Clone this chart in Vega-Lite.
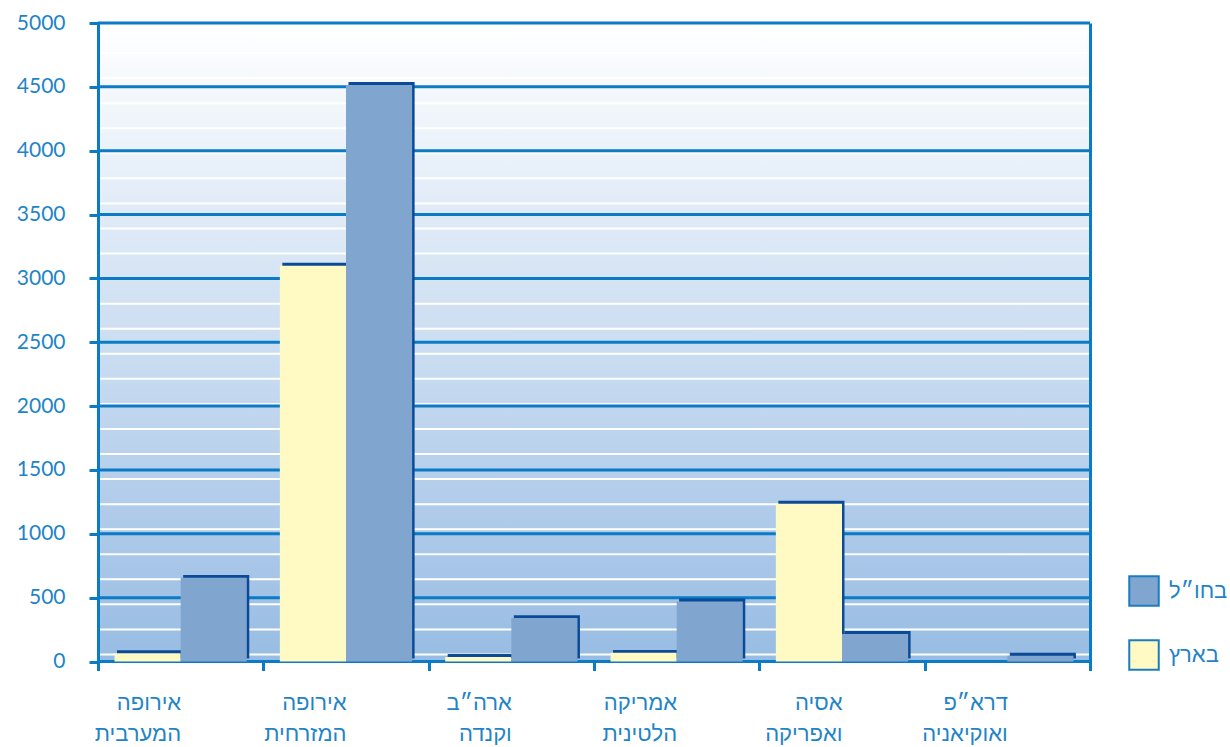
{
  "$schema": "https://vega.github.io/schema/vega-lite/v6.json",
  "width": 992,
  "height": 638.5,
  "autosize": "none",
  "padding": {"left": 98, "top": 23, "right": 140, "bottom": 86},
  "background": "white",
  "config": {"view": {"stroke": null}, "font": "Liberation Sans"},
  "datasets": {
    "bars": [
      {"region": "אירופה המערבית", "loc": "בארץ", "value": 65},
      {"region": "אירופה המערבית", "loc": "בחו״ל", "value": 655},
      {"region": "אירופה המזרחית", "loc": "בארץ", "value": 3100},
      {"region": "אירופה המזרחית", "loc": "בחו״ל", "value": 4515},
      {"region": "ארה״ב וקנדה", "loc": "בארץ", "value": 35},
      {"region": "ארה״ב וקנדה", "loc": "בחו״ל", "value": 340},
      {"region": "אמריקה הלטינית", "loc": "בארץ", "value": 68},
      {"region": "אמריקה הלטינית", "loc": "בחו״ל", "value": 470},
      {"region": "אסיה ואפריקה", "loc": "בארץ", "value": 1235},
      {"region": "אסיה ואפריקה", "loc": "בחו״ל", "value": 215},
      {"region": "דרא״פ ואוקיאניה", "loc": "בארץ", "value": 0},
      {"region": "דרא״פ ואוקיאניה", "loc": "בחו״ל", "value": 45}
    ],
    "minor": [
      {"g": 55}, {"g": 251}, {"g": 448}, {"g": 644}, {"g": 840}, {"g": 1036}, {"g": 1232},
      {"g": 1429}, {"g": 1625}, {"g": 1821}, {"g": 2017}, {"g": 2214}, {"g": 2410}, {"g": 2606},
      {"g": 2802}, {"g": 2999}, {"g": 3195}, {"g": 3391}, {"g": 3587}, {"g": 3784}, {"g": 3980},
      {"g": 4176}, {"g": 4372}, {"g": 4569}, {"g": 4765}
    ],
    "major": [
      {"g": 0}, {"g": 500}, {"g": 1000}, {"g": 1500}, {"g": 2000}, {"g": 2500},
      {"g": 3000}, {"g": 3500}, {"g": 4000}, {"g": 4500}, {"g": 5000}
    ]
  },
  "resolve": {"scale": {"y": "independent", "xOffset": "independent"}, "axis": {"y": "independent"}},
  "layer": [
    {
      "data": {"values": [{"a": 1}]},
      "mark": {
        "type": "rect",
        "fill": {
          "gradient": "linear",
          "x1": 0, "y1": 0, "x2": 0, "y2": 1,
          "stops": [
            {"offset": 0, "color": "#ffffff"},
            {"offset": 1, "color": "#98bce3"}
          ]
        }
      },
      "encoding": {
        "y": {
          "datum": 0, "type": "quantitative",
          "scale": {"domain": [0, 5000], "nice": false},
          "axis": {"orient": "right", "labels": false, "ticks": false, "domain": true, "domainColor": "#0a7bc4", "domainWidth": 3, "grid": false, "title": null, "zindex": 1}
        },
        "y2": {"datum": 5000}
      }
    },
    {
      "data": {"name": "minor"},
      "mark": {"type": "rule", "color": "#ffffff", "strokeWidth": 2},
      "encoding": {
        "y": {"field": "g", "type": "quantitative", "scale": {"domain": [0, 5000], "nice": false}, "axis": null}
      }
    },
    {
      "data": {"name": "major"},
      "mark": {"type": "rule", "color": "#0a7bc4", "strokeWidth": 3},
      "encoding": {
        "y": {"field": "g", "type": "quantitative", "scale": {"domain": [0, 5000], "nice": false}, "axis": null}
      }
    },
    {
      "data": {"name": "bars"},
      "mark": {"type": "bar", "fill": "#0a4a96"},
      "encoding": {
        "x": {
          "field": "region", "type": "nominal",
          "scale": {"domain": ["אירופה המערבית", "אירופה המזרחית", "ארה״ב וקנדה", "אמריקה הלטינית", "אסיה ואפריקה", "דרא״פ ואוקיאניה"], "paddingInner": 0, "paddingOuter": 0},
          "axis": {"title": null}
        },
        "xOffset": {
          "field": "loc", "type": "nominal",
          "scale": {"domain": ["בארץ", "בחו״ל"], "paddingInner": 0, "paddingOuter": 0.25, "align": 0.575}
        },
        "y": {"field": "value", "type": "quantitative", "scale": {"domain": [-23, 4977], "nice": false}, "axis": null}
      }
    },
    {
      "data": {"name": "bars"},
      "mark": {"type": "bar"},
      "encoding": {
        "x": {
          "field": "region", "type": "nominal",
          "scale": {"domain": ["אירופה המערבית", "אירופה המזרחית", "ארה״ב וקנדה", "אמריקה הלטינית", "אסיה ואפריקה", "דרא״פ ואוקיאניה"], "paddingInner": 0, "paddingOuter": 0},
          "axis": {
            "title": null, "domain": false, "grid": false,
            "tickBand": "extent", "tickColor": "#0a7bc4", "tickWidth": 3, "tickSize": 9,
            "labelAngle": 0, "labelExpr": "split(datum.label, ' ')",
            "labelFont": "Liberation Sans", "labelFontSize": 22, "labelLineHeight": 31,
            "labelColor": "#1f84c7", "labelPadding": 22, "labelBaseline": "top"
          }
        },
        "xOffset": {
          "field": "loc", "type": "nominal",
          "scale": {"domain": ["בארץ", "בחו״ל"], "paddingInner": 0, "paddingOuter": 0.25}
        },
        "y": {
          "field": "value", "type": "quantitative",
          "scale": {"domain": [0, 5000], "nice": false},
          "axis": {
            "orient": "left", "title": null, "grid": false, "format": "d",
            "values": [0, 500, 1000, 1500, 2000, 2500, 3000, 3500, 4000, 4500, 5000],
            "domainColor": "#0a7bc4", "domainWidth": 3,
            "tickColor": "#0a7bc4", "tickWidth": 3, "tickSize": 9,
            "labelFont": "Lato", "labelFontSize": 21, "labelColor": "#1f84c7",
            "labelPadding": 24, "zindex": 1
          }
        },
        "color": {
          "field": "loc", "type": "nominal",
          "scale": {"domain": ["בארץ", "בחו״ל"], "range": ["#fff9c4", "#80a5cf"]},
          "legend": {
            "title": null, "orient": "none", "legendX": 1030, "legendY": 552,
            "values": ["בחו״ל", "בארץ"],
            "symbolType": "square", "symbolSize": 870,
            "symbolStrokeColor": "#1a7dc2", "symbolStrokeWidth": 2, "symbolOpacity": 1,
            "labelFont": "Liberation Sans", "labelFontSize": 22, "labelColor": "#1f84c7",
            "labelOffset": 9, "rowPadding": 26,
            "encode": {"symbols": {"update": {"fill": {"signal": "datum.value === 'בחו״ל' ? '#7f8ec0' : '#fff9c6'"}, "stroke": {"value": "#1a7dc2"}}}}
          }
        }
      }
    }
  ]
}
